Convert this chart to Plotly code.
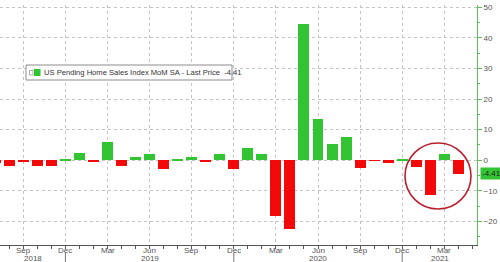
import plotly.graph_objects as go

# Monthly data, Jul 2018 .. Apr 2021 (MoM %)
months = ["Jul 2018", "Aug 2018", "Sep 2018", "Oct 2018", "Nov 2018", "Dec 2018",
          "Jan 2019", "Feb 2019", "Mar 2019", "Apr 2019", "May 2019", "Jun 2019",
          "Jul 2019", "Aug 2019", "Sep 2019", "Oct 2019", "Nov 2019", "Dec 2019",
          "Jan 2020", "Feb 2020", "Mar 2020", "Apr 2020", "May 2020", "Jun 2020",
          "Jul 2020", "Aug 2020", "Sep 2020", "Oct 2020", "Nov 2020", "Dec 2020",
          "Jan 2021", "Feb 2021", "Mar 2021", "Apr 2021"]
values = [-1.0, -1.8, -0.3, -1.8, -1.8, 0.4,
          2.3, -0.4, 5.9, -2.0, 1.2, 2.0,
          -3.0, 0.2, 1.1, -0.4, 2.1, -2.8,
          3.9, 2.1, -18.2, -22.4, 44.6, 13.4,
          5.3, 7.7, -2.6, -0.2, -1.0, 0.3,
          -2.2, -11.3, 2.0, -4.41]
tick_labels = ["Sep", "Dec", "Mar", "Jun", "Sep", "Dec", "Mar", "Jun",
               "Sep", "Dec", "Mar", "Jun", "Sep", "Dec", "Mar"]
years = ["2018", "2019", "2020", "2021"]
last_price = -4.41
legend_text = "US Pending Home Sales Index MoM SA - Last Price  -4.41"

GREEN = "#33c433"
RED = "#f20a0a"
FONT = "Liberation Sans"

idx = list(range(len(months)))
colors = [GREEN if v >= 0 else RED for v in values]
tickvals = [i for i, m in enumerate(months) if m.split()[0] in ("Sep", "Dec", "Mar", "Jun")]
dec_pos = [i for i, m in enumerate(months) if m.startswith("Dec")]

x_lo, x_hi = 0.34, 34.33
y_lo, y_hi = -27.7, 50.75

fig = go.Figure()
fig.add_trace(go.Bar(x=idx, y=values, marker=dict(color=colors, line=dict(width=0)),
                     width=0.78, showlegend=False, hoverinfo="skip"))

fig.update_layout(
    width=500, height=262,
    margin=dict(l=0, r=23, t=5, b=17),
    paper_bgcolor="white", plot_bgcolor="white",
    font=dict(family=FONT, size=8, color="#555"),
    bargap=0,
    xaxis=dict(range=[x_lo, x_hi], tickvals=tickvals, showticklabels=False,
               showgrid=True, gridcolor="#c4c4c4", griddash="dot", gridwidth=1,
               showline=True, linecolor="#555", linewidth=1,
               ticks="outside", ticklen=3, tickcolor="#555",
               minor=dict(dtick=1, tick0=0, ticks="outside", ticklen=3, tickcolor="#555", showgrid=False),
               zeroline=False),
    yaxis=dict(range=[y_lo, y_hi], side="right", tickvals=[-20, -10, 0, 10, 20, 30, 40, 50],
               showgrid=True, gridcolor="#c4c4c4", griddash="dot", gridwidth=1,
               showline=True, linecolor="#5cbf5c", linewidth=1,
               ticks="outside", ticklen=4, tickcolor="#5cbf5c",
               minor=dict(dtick=5, ticks="outside", ticklen=2, tickcolor="#5cbf5c", showgrid=False),
               tickfont=dict(size=8, color="#555"), zeroline=False),
)

W, H, TOP = 477.0, 240.0, 5.0
def px(x): return x / W
def py(y): return (TOP + H - y) / H

# month tick labels
for tv, lab in zip(tickvals, tick_labels):
    fig.add_annotation(x=tv, y=py(250.5), xref="x", yref="paper", text=lab, showarrow=False,
                       font=dict(size=8, color="#555"), yanchor="middle")
# year labels centered in year spans
bounds = [x_lo] + dec_pos + [x_hi]
for k, yr in enumerate(years):
    fig.add_annotation(x=(bounds[k] + bounds[k + 1]) / 2, y=py(258.5), xref="x", yref="paper",
                       text=yr, showarrow=False, font=dict(size=8, color="#555"),
                       yanchor="middle")
# year separator lines below axis
for d in dec_pos:
    fig.add_shape(type="line", xref="x", yref="paper", x0=d, x1=d, y0=py(253), y1=py(262),
                  line=dict(color="#777", width=1))

# legend box
fig.add_shape(type="rect", xref="paper", yref="paper", x0=px(26), x1=px(232), y0=py(80), y1=py(65),
              line=dict(color="#8c8c8c", width=1), fillcolor="white", layer="above")
fig.add_shape(type="rect", xref="paper", yref="paper", x0=px(29.5), x1=px(33), y0=py(75), y1=py(70.5),
              line=dict(color="#aaa", width=1), fillcolor="white", layer="above")
fig.add_shape(type="rect", xref="paper", yref="paper", x0=px(34), x1=px(40.5), y0=py(76), y1=py(69),
              line=dict(width=0), fillcolor=GREEN, layer="above")
fig.add_annotation(x=px(42), y=py(72.5), xref="paper", yref="paper", xanchor="left", yanchor="middle",
                   text=legend_text, showarrow=False, font=dict(size=7.6, color="#333"))

# last price tag on the right axis
fig.add_annotation(x=1.0, y=last_price, xref="paper", yref="y", xanchor="left", yanchor="middle",
                   xshift=3, text=f"{last_price:.2f}", showarrow=False, bgcolor=GREEN,
                   font=dict(size=8, color="#222"), borderpad=1)

# red highlight circle
fig.add_shape(type="circle", xref="paper", yref="paper", x0=px(405), x1=px(471), y0=py(209), y1=py(143),
              line=dict(color="#b8202f", width=1.6), layer="above")

fig.write_html("out.html")
